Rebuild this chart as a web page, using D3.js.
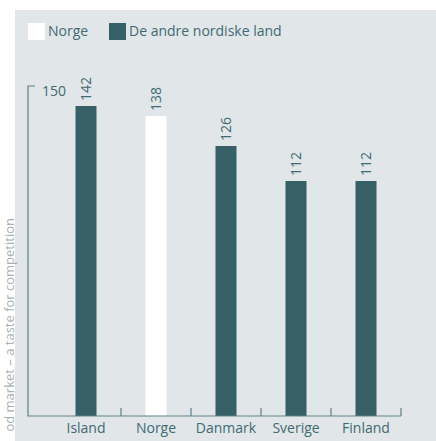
<!DOCTYPE html>
<html>
<head>
<meta charset="utf-8">
<script src="https://cdn.jsdelivr.net/npm/d3@7"></script>
<style>
  body { margin: 0; background: #fff; }
  svg { display: block; font-family: "Open Sans", "Noto Sans", sans-serif; }
</style>
</head>
<body>
<div id="chart"></div>
<script>
// chart data
var countries = ["Island", "Norge", "Danmark", "Sverige", "Finland"];
var values = [142, 138, 126, 112, 112];
var isNorway = [false, true, false, false, false];
var legendLabels = ["Norge", "De andre nordiske land"];
var yTicks = [150];
var sideText = "od market \u2013 a taste for competition";

var width = 436, height = 441;
var teal = "#365f66", textCol = "#3f6a73", axisCol = "#5f8088", panel = "#e1e6e8";

var svg = d3.select("#chart").append("svg")
  .attr("width", width)
  .attr("height", height);

// grey panel
svg.append("rect")
  .attr("x", 15).attr("y", 10)
  .attr("width", width - 15).attr("height", height - 10)
  .attr("fill", panel);

// side text (the reference shows it cut at the bottom)
var side = svg.append("text")
  .attr("transform", "translate(14,218) rotate(-90)")
  .attr("text-anchor", "end")
  .attr("font-size", 13)
  .attr("fill", "#a9b0b3")
  .text(sideText);
// fit into the space above the bottom edge
var sideLen = side.node().getComputedTextLength();
if (sideLen > 218) side.attr("textLength", 218).attr("lengthAdjust", "spacingAndGlyphs");

// legend
var legendX = [28, 109];
legendLabels.forEach(function(l, i) {
  svg.append("rect")
    .attr("x", legendX[i]).attr("y", 23)
    .attr("width", 17).attr("height", 17)
    .attr("fill", i === 0 ? "#fff" : teal);
  svg.append("text")
    .attr("x", legendX[i] + 20).attr("y", 36)
    .attr("font-size", 14)
    .attr("fill", textCol)
    .text(l);
});

// scales
var x = d3.scaleBand().domain(countries).range([51, 401])
  .paddingInner(0.7).paddingOuter(0.35);
var y = d3.scaleLinear().domain([18, 150]).range([416, 86]);
var step = x.step();

// bars
var g = svg.append("g");
g.selectAll(".bar").data(countries)
  .enter().append("rect")
  .attr("x", d => x(d))
  .attr("width", x.bandwidth())
  .attr("y", (d, i) => y(values[i]))
  .attr("height", (d, i) => y.range()[0] - y(values[i]))
  .attr("fill", (d, i) => isNorway[i] ? "#fff" : teal);

// value labels
g.selectAll(".val").data(countries)
  .enter().append("text")
  .attr("transform", (d, i) => "translate(" + (x(d) + x.bandwidth() / 2 + 5) + "," + (y(values[i]) - 5) + ") rotate(-90)")
  .attr("font-size", 14)
  .attr("fill", textCol)
  .text((d, i) => values[i]);

// axes
var axisG = svg.append("g").attr("stroke", axisCol).attr("stroke-width", 1.2).attr("fill", "none");
axisG.append("path")
  .attr("d", "M35," + y(150) + "H28V416H" + (x(countries[4]) + x.bandwidth() / 2 + step / 2));
countries.forEach(function(c) {
  var tx = x(c) + x.bandwidth() / 2 + step / 2;
  axisG.append("line")
    .attr("x1", tx).attr("x2", tx)
    .attr("y1", 416).attr("y2", 408);
});

yTicks.forEach(function(t) {
  svg.append("text")
    .attr("x", 42).attr("y", y(t) + 10)
    .attr("font-size", 14)
    .attr("fill", textCol)
    .text(t);
});

// x labels
svg.selectAll(".xl").data(countries)
  .enter().append("text")
  .attr("x", d => x(d) + x.bandwidth() / 2)
  .attr("y", 433)
  .attr("text-anchor", "middle")
  .attr("font-size", 14)
  .attr("fill", textCol)
  .text(d => d);
</script>
</body>
</html>
